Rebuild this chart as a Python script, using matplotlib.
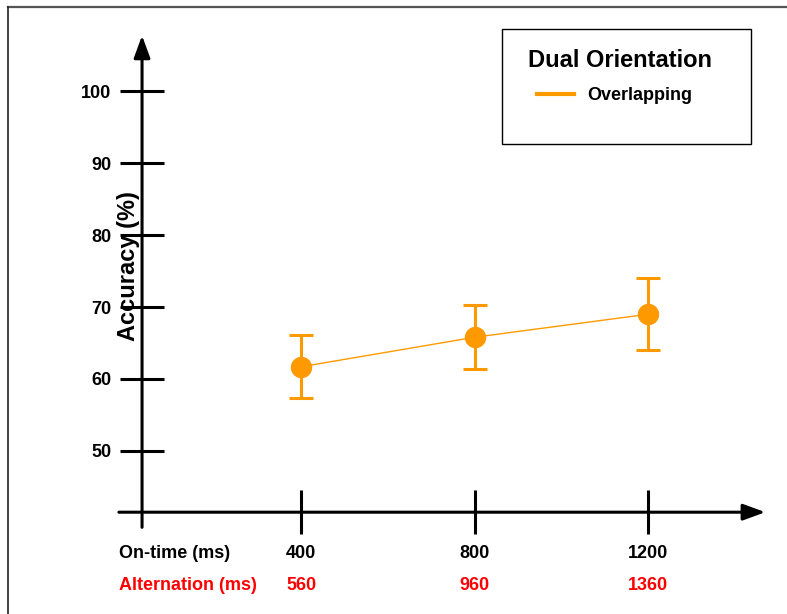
import matplotlib
matplotlib.use("Agg")
import matplotlib.pyplot as plt
from matplotlib.lines import Line2D
from matplotlib.patches import Rectangle
from matplotlib.transforms import blended_transform_factory

plt.rcParams['font.family'] = ['Liberation Sans', 'DejaVu Sans']
plt.rcParams['font.weight'] = 'bold'

# ---- data ----
on_time = [400, 800, 1200]
alternation = [560, 960, 1360]
accuracy = [61.7, 65.8, 69.0]
err = [4.4, 4.45, 5.0]
yticks = [50, 60, 70, 80, 90, 100]
series_name = "Overlapping"
legend_title = "Dual Orientation"

ORANGE = "#FF9900"
W, H = 787, 614
fig = plt.figure(figsize=(W / 100, H / 100), dpi=100)
ax = fig.add_axes([0, 0, 1, 1])
ax.set_xlim(-294, 1520)
ax.set_ylim(27.36, 112.64)
ax.patch.set_alpha(0)

y_axis_x = 33.4
x_axis_y = 41.5

for s in ['top', 'right']:
    ax.spines[s].set_visible(False)
ax.spines['left'].set_position(('data', y_axis_x))
ax.spines['bottom'].set_position(('data', x_axis_y))
ax.spines['left'].set_visible(False)
ax.spines['bottom'].set_visible(False)

ax.set_yticks(yticks)
ax.set_yticklabels([str(v) for v in yticks], fontweight='bold', fontsize=13)
ax.set_xticks(on_time)
ax.set_xticklabels([str(v) for v in on_time], fontweight='bold', fontsize=13)
ax.tick_params(axis='y', direction='inout', length=31, width=2.2, pad=6.8,
               colors='black')
ax.tick_params(axis='x', direction='inout', length=31.7, width=2.2, pad=8.0,
               colors='black')

# axis arrows
arrow = dict(arrowstyle='-|>,head_length=0.9,head_width=0.33', lw=2.2,
             color='black', mutation_scale=15, shrinkA=0, shrinkB=0)
ax.annotate('', xy=(y_axis_x, 107.7), xytext=(y_axis_x, 39.4), arrowprops=arrow)
ax.annotate('', xy=(1470, x_axis_y), xytext=(-20, x_axis_y), arrowprops=arrow)

# data
ax.errorbar(on_time, accuracy, yerr=err, color=ORANGE, lw=1.0, marker='o',
            markersize=14.4, elinewidth=2.2, capsize=8.6, capthick=2.2, zorder=5)

# y label
ax.set_ylabel('Accuracy (%)', fontsize=17, fontweight='bold', va='center')
ax.yaxis.set_label_coords(129 / W, 1 - 266 / H)

# x row labels
ax.text(119 / W, 1 - 558 / H, 'On-time (ms)', transform=ax.transAxes,
        fontsize=13, fontweight='bold', color='black', ha='left', va='baseline')
ax.text(119 / W, 1 - 589.5 / H, 'Alternation (ms)', transform=ax.transAxes,
        fontsize=13, fontweight='bold', color='#FF0000', ha='left', va='baseline')
bt = blended_transform_factory(ax.transData, ax.transAxes)
for xv, alt in zip(on_time, alternation):
    ax.text(xv, 1 - 589.5 / H, str(alt), transform=bt, fontsize=13,
            fontweight='bold', color='#FF0000', ha='center', va='baseline')

# legend box (manual)
ax.add_patch(Rectangle((502 / W, 1 - 144 / H), 249 / W, 115 / H, transform=ax.transAxes,
                       fill=False, edgecolor='black', lw=1.0, zorder=6))
ax.text(620.5 / W, 1 - 66.7 / H, legend_title, transform=ax.transAxes, fontsize=17,
        fontweight='bold', ha='center', va='baseline')
ax.add_line(Line2D([537 / W, 574 / W], [1 - 94 / H, 1 - 94 / H], transform=ax.transAxes,
                   color=ORANGE, lw=3))
ax.text(587 / W, 1 - 100 / H, series_name, transform=ax.transAxes, fontsize=13,
        fontweight='bold', ha='left', va='baseline')

# figure frame (top and left)
fig.add_artist(Line2D([8 / W, 1], [1 - 6.5 / H, 1 - 6.5 / H], transform=fig.transFigure,
                      color='#555555', lw=1.6))
fig.add_artist(Line2D([8 / W, 8 / W], [0, 1 - 6.5 / H], transform=fig.transFigure,
                      color='#222222', lw=1.2))

fig.savefig('out.png', dpi=100)
